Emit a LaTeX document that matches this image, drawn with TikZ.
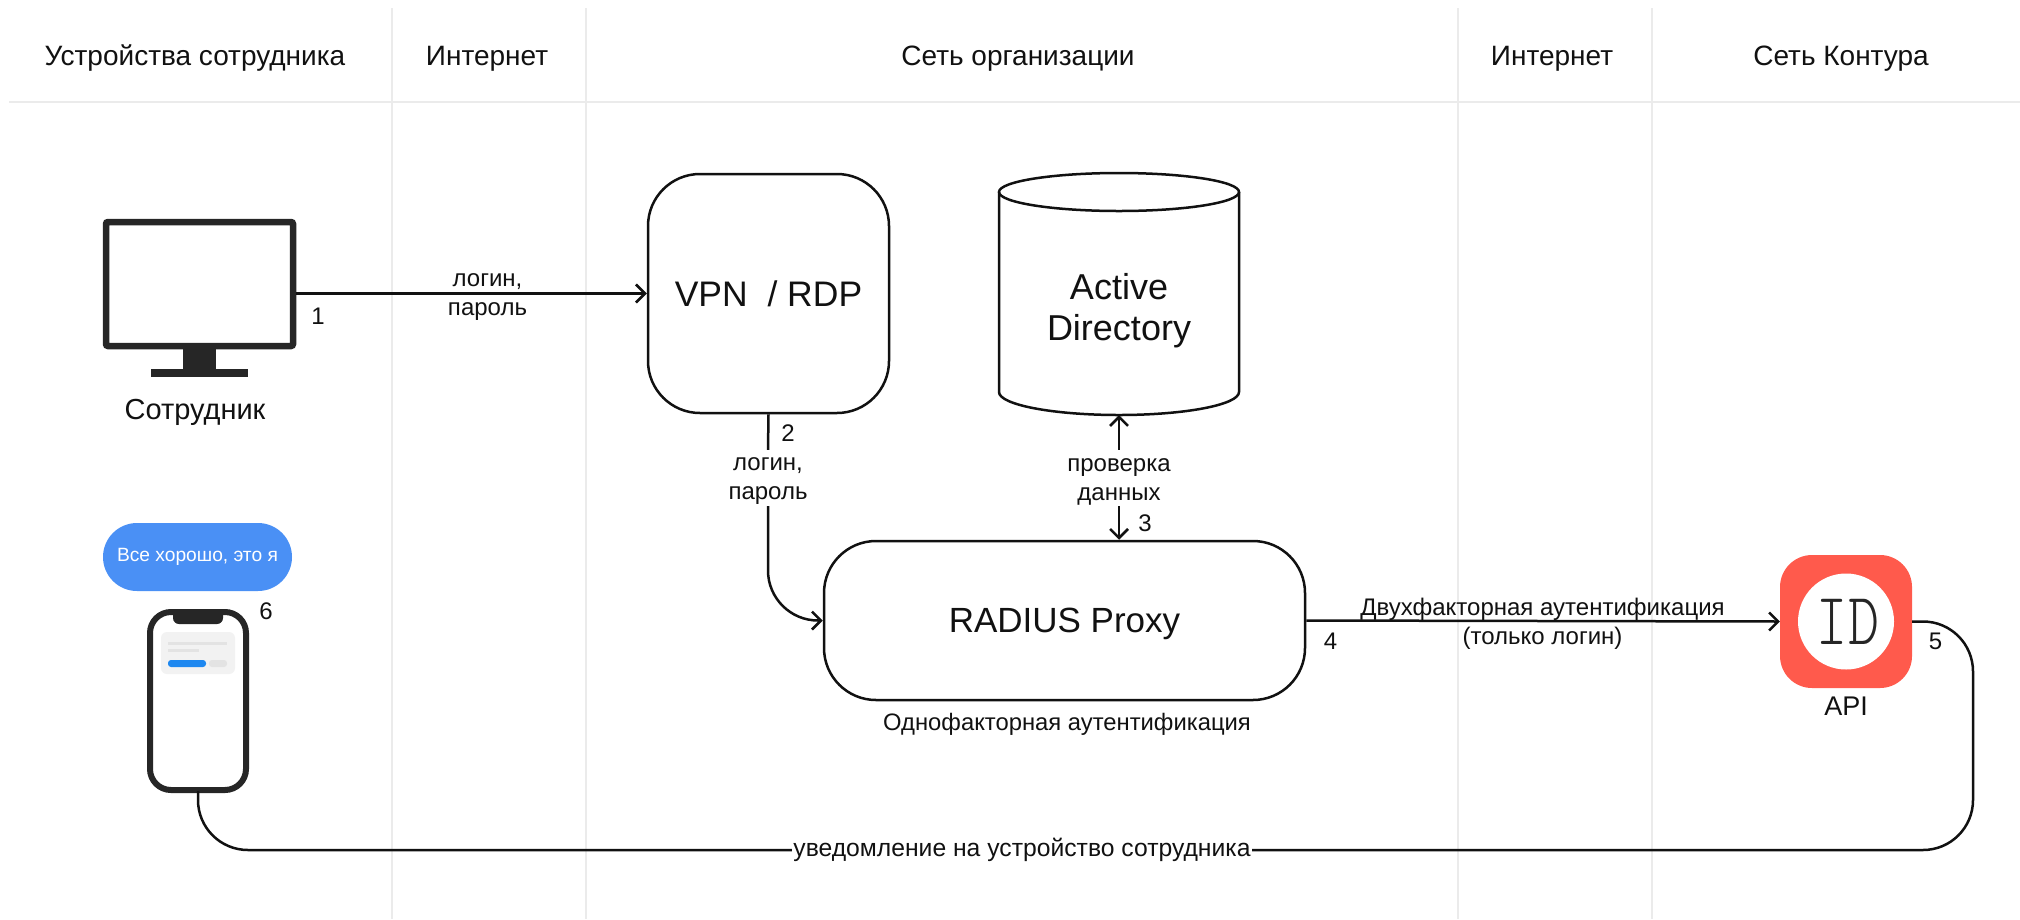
\documentclass[tikz,border=0pt]{standalone}
\usepackage{fontspec}
\setmainfont{Liberation Sans}
\newfontfamily\monofam{Latin Modern Mono Light}
\usetikzlibrary{arrows.meta}
\definecolor{ink}{HTML}{111111}
\definecolor{dev}{HTML}{262626}
\definecolor{gridc}{HTML}{EBEBEB}
\definecolor{bubble}{HTML}{4A90F5}
\definecolor{apired}{HTML}{FF5A4C}
\definecolor{btn}{HTML}{1E88F0}
\definecolor{cardc}{HTML}{F2F2F2}
\definecolor{linec}{HTML}{E3E3E3}
\tikzset{
  x=1pt,y=-1pt,
  gridline/.style={draw=gridc,line width=1.5pt},
  head/.style={font=\fontsize{28}{32}\selectfont,text=ink,inner sep=0pt,anchor=base},
  lab/.style={font=\fontsize{24}{29}\selectfont,text=ink,align=center,inner xsep=0pt,inner ysep=4.5pt},
  num/.style={font=\fontsize{24}{28}\selectfont,text=ink,inner sep=0pt},
  box/.style={draw=ink,line width=2.5pt,fill=white,rounded corners=52pt,align=center,text=ink,inner sep=0pt,text depth=0pt},
  conn/.style={draw=ink,line width=2.5pt},
  arr/.style={conn,-{Straight Barb[length=9pt,width=18pt,line width=2.5pt]}},
}
\begin{document}
\begin{tikzpicture}
\useasboundingbox (0,0) rectangle (2020,919);
% grid
\draw[gridline] (9,102) -- (2020,102);
\foreach \gx in {392,586,1458,1652} \draw[gridline] (\gx,8) -- (\gx,919);
% headers
\node[head] (h1) at (195,65) {Устройства сотрудника};
\node[head] (h2) at (487,65) {Интернет};
\node[head] (h3) at (1018,65) {Сеть организации};
\node[head] (h4) at (1552,65) {Интернет};
\node[head] (h5) at (1841,65) {Сеть Контура};
% monitor
\node[draw=dev,line width=6.5pt,rounded corners=2pt,fill=white,minimum width=187pt,minimum height=124pt,inner sep=0pt] (mon) at (199.5,284) {};
\fill[dev] (183,349) rectangle (216,372);
\fill[dev] (151,369) rectangle (248,377);
\node[font=\fontsize{29}{34}\selectfont,text=ink,inner sep=0pt] (monlab) at (195,412) {Сотрудник};
% boxes
\node[box,font=\fontsize{35.5}{44}\selectfont,minimum width=241pt,minimum height=239pt] (vpn) at (768.5,293.5) {VPN\ \ / RDP};
\node[box,font=\fontsize{35}{44}\selectfont,minimum width=481pt,minimum height=159pt] (radius) at (1064.5,620.5) {RADIUS Proxy};
\node[lab,font=\fontsize{23.8}{30}\selectfont,inner ysep=0pt] (one) at (1067,724) {Однофакторная аутентификация};
% cylinder
\node[minimum width=240pt,minimum height=244pt,inner sep=0pt] (ad) at (1119,293) {};
\node[inner sep=0pt,align=center,text=ink,font=\fontsize{36}{41}\selectfont] (adtext) at (1119,310.5) {Active\\Directory};
\draw[conn] (999,192) -- (999,392) arc[start angle=180,end angle=360,x radius=120pt,y radius=23pt] -- (1239,192);
\draw[conn] (1119,192) ellipse[x radius=120pt,y radius=19pt];
% API icon
\node[fill=apired,rounded corners=32pt,minimum width=132pt,minimum height=133pt,inner sep=0pt] (api) at (1846,621.5) {};
\fill[white] (api.center) circle[radius=48pt];
\node[font=\monofam\fontsize{74}{74}\selectfont,text=dev,inner sep=0pt,text depth=0pt] (idt) at ([xshift=2pt]api.center) {\scalebox{0.8}[1]{ID}};
\node[lab,font=\fontsize{27}{32}\selectfont,inner ysep=0pt] (apilab) at (1846,706) {API};
% bubble
\node[fill=bubble,rounded corners=34pt,minimum width=189pt,minimum height=68pt,inner sep=0pt,text=white,font=\fontsize{19.2}{24}\selectfont] (bub) at (197.5,557) {Все хорошо, это я};
% phone
\node[draw=dev,line width=6pt,fill=white,rounded corners=21pt,minimum width=96pt,minimum height=178pt,inner sep=0pt] (phone) at (198,701) {};
\fill[dev] (173,609) [rounded corners=6pt] -- (173,624) -- (223,624) [sharp corners] -- (223,609) -- cycle;
\fill[cardc,rounded corners=6pt] (161,632) rectangle (235,674);
\fill[linec] (168,642) rectangle (227,645);
\fill[linec] (168,648.5) rectangle (199,652);
\fill[btn,rounded corners=3pt] (168,660) rectangle (206,667);
\fill[linec,rounded corners=3pt] (209,660) rectangle (227,667);
% labels on links
\node[lab] (l1) at (487.5,297.5) {логин,\\пароль};
\node[lab] (l2) at (768,481.5) {логин,\\пароль};
\node[lab] (l3) at (1119,481.5) {проверка\\данных};
\node[lab] (l4) at (1542.5,623.5) {Двухфакторная аутентификация\\(только логин)};
% connectors
\draw[arr] (mon.east |- vpn.west) -- (vpn.west);
\draw[conn] (vpn.south) -- ([yshift=3.5pt]l2.north);
\draw[arr,rounded corners=50pt] ([yshift=3.5pt]l2.south) -- (l2.south |- radius.west) -- (radius.west);
\draw[arr] ([yshift=3.5pt]l3.north) -- (ad.south);
\draw[arr] ([yshift=3.5pt]l3.south) -- (l3.south |- radius.north);
\draw[arr] (radius.east) -- (api.west);
\coordinate (cr1) at (1973,621.5);
\coordinate (cr2) at (1973,850);
\draw[conn,rounded corners=50pt] (api.east) -- (cr1) -- (cr2) -- (phone.south |- cr2) -- ([yshift=2pt]phone.south);
\node[lab,font=\fontsize{24.7}{29}\selectfont,fill=white,inner xsep=1pt,inner ysep=2pt] (l5) at (1022,850) {уведомление на устройство сотрудника};
% numbers
\node[num] (n1) at (318,316) {1};
\node[num] (n2) at (788,433) {2};
\node[num] (n3) at (1145,523) {3};
\node[num] (n4) at (1330.5,641) {4};
\node[num] (n5) at (1935.5,641) {5};
\node[num] (n6) at (266,611) {6};
\end{tikzpicture}
\end{document}
